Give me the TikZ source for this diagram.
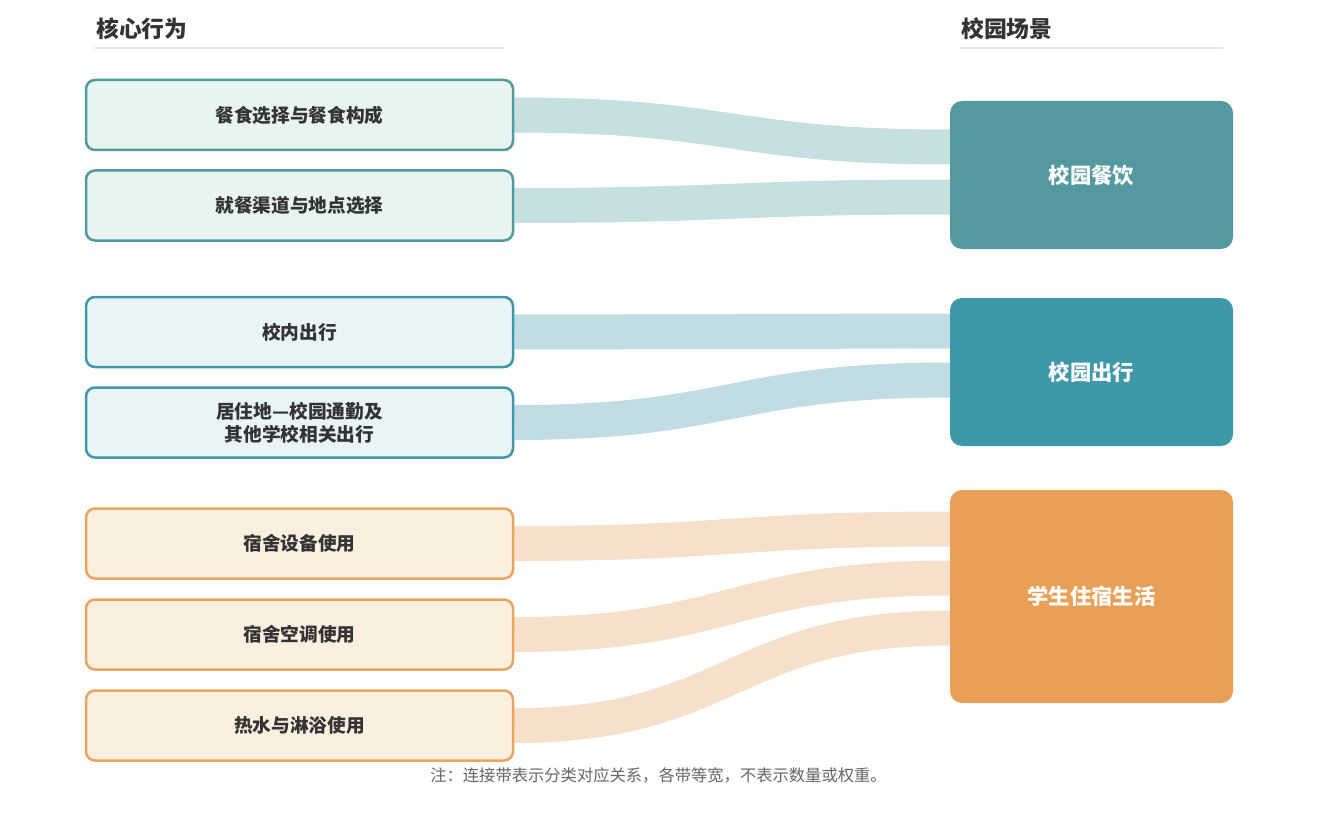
\documentclass[tikz,border=0pt]{standalone}
\usepackage{fontspec}
\setmainfont{Noto Sans CJK SC}
\usetikzlibrary{calc,backgrounds}
\definecolor{inkgray}{HTML}{333333}
\definecolor{notegray}{HTML}{666666}
\definecolor{rulegray}{HTML}{E3E3E3}
\definecolor{dinebox}{HTML}{5499A0}
\definecolor{dinefill}{HTML}{E7F4F1}
\definecolor{dineband}{HTML}{C6DFDF}
\definecolor{travelbox}{HTML}{3F97AA}
\definecolor{travelfill}{HTML}{E8F4F6}
\definecolor{travelband}{HTML}{C1DDE3}
\definecolor{dormbox}{HTML}{E8A058}
\definecolor{dormline}{HTML}{E9A45E}
\definecolor{dormfill}{HTML}{FBEFE0}
\definecolor{dormband}{HTML}{F6E0CB}
\tikzset{
  x=1pt,
  y=-1pt,
}
\tikzstyle{heading}=[anchor=west,inner sep=0,text=inkgray,font=\fontsize{22.8}{27}\selectfont\bfseries]
\tikzstyle{headrule}=[line width=2,draw=rulegray]
\tikzstyle{behaviour}=[draw,rounded corners=9,line width=2.5,minimum width=427,minimum height=70,align=center,text=inkgray,font=\fontsize{18.7}{23}\selectfont\bfseries]
\tikzstyle{scene}=[rounded corners=12,minimum width=283,text=white,font=\fontsize{21.3}{25}\selectfont\bfseries]
\tikzstyle{band}=[line width=35]
\tikzstyle{note}=[text=notegray,font=\fontsize{16.3}{20}\selectfont]

\begin{document}
\begin{tikzpicture}
  \useasboundingbox (0,0) rectangle (1318,824);
  % column headings
  \node[heading] (lhead) at (96,29) {核心行为};
  \node[heading] (rhead) at (961,29) {校园场景};
  \draw[headrule] (95,48) -- (504,48);
  \draw[headrule] (960,48) -- (1223,48);
  % core behaviours
  \node[behaviour,draw=dinebox,fill=dinefill] (meal) at (299.5,115) {餐食选择与餐食构成};
  \node[behaviour,draw=dinebox,fill=dinefill] (venue) at (299.5,205.5) {就餐渠道与地点选择};
  \node[behaviour,draw=travelbox,fill=travelfill] (oncampus) at (299.5,332) {校内出行};
  \node[behaviour,draw=travelbox,fill=travelfill] (commute) at (299.5,422.5) {居住地—校园通勤及\\其他学校相关出行};
  \node[behaviour,draw=dormline,fill=dormfill] (device) at (299.5,543.5) {宿舍设备使用};
  \node[behaviour,draw=dormline,fill=dormfill] (aircon) at (299.5,634.5) {宿舍空调使用};
  \node[behaviour,draw=dormline,fill=dormfill] (shower) at (299.5,725.5) {热水与淋浴使用};
  % campus scenes
  \node[scene,fill=dinebox,minimum height=148] (dining) at (1091.5,175) {校园餐饮};
  \node[scene,fill=travelbox,minimum height=148] (travel) at (1091.5,372) {校园出行};
  \node[scene,fill=dormbox,minimum height=213] (dorm) at (1091.5,596.5) {学生住宿生活};
  \coordinate (dining1) at ($(dining.west)+(0,-28)$);
  \coordinate (dining2) at ($(dining.west)+(0,22)$);
  \coordinate (travel1) at ($(travel.west)+(0,-41)$);
  \coordinate (travel2) at ($(travel.west)+(0,8)$);
  \coordinate (dorm1) at ($(dorm.west)+(0,-67.5)$);
  \coordinate (dorm2) at ($(dorm.west)+(0,-18.5)$);
  \coordinate (dorm3) at ($(dorm.west)+(0,31.5)$);
  % bands
  \begin{scope}[on background layer]
    \draw[band,dineband] (meal.east) .. controls +(218,0) and +(-218,0) .. (dining1);
    \draw[band,dineband] (venue.east) .. controls +(218,0) and +(-218,0) .. (dining2);
    \draw[band,travelband] (oncampus.east) .. controls +(218,0) and +(-218,0) .. (travel1);
    \draw[band,travelband] (commute.east) .. controls +(218,0) and +(-218,0) .. (travel2);
    \draw[band,dormband] (device.east) .. controls +(218,0) and +(-218,0) .. (dorm1);
    \draw[band,dormband] (aircon.east) .. controls +(218,0) and +(-218,0) .. (dorm2);
    \draw[band,dormband] (shower.east) .. controls +(218,0) and +(-218,0) .. (dorm3);
  \end{scope}
  \node[note] (note) at (658.5,775) {注：连接带表示分类对应关系，各带等宽，不表示数量或权重。};
\end{tikzpicture}
\end{document}
